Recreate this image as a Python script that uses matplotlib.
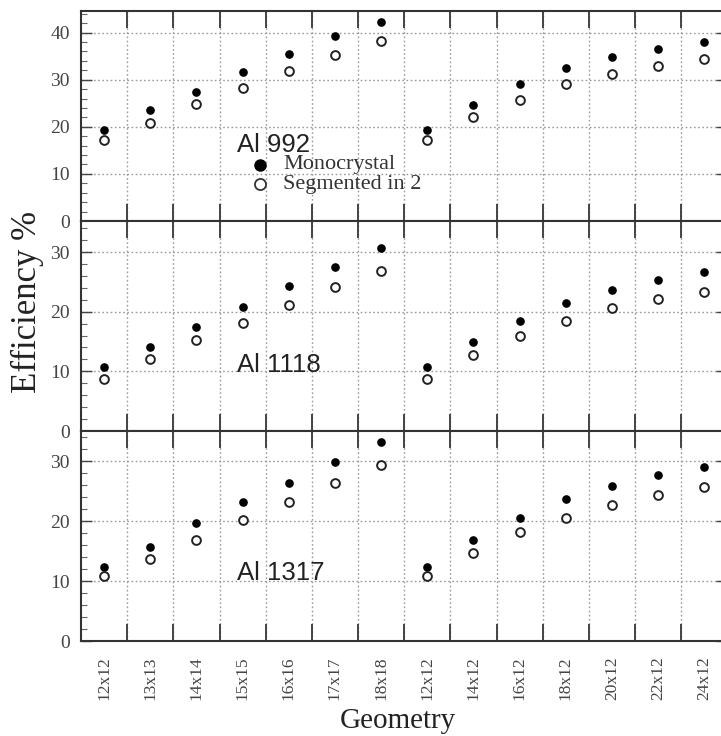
import matplotlib
matplotlib.use("Agg")
import matplotlib.pyplot as plt
from matplotlib.ticker import MultipleLocator, FixedLocator

geometries = ["12x12", "13x13", "14x14", "15x15", "16x16", "17x17", "18x18",
              "12x12", "14x12", "16x12", "18x12", "20x12", "22x12", "24x12"]

panel_names = ["Al 992", "Al 1118", "Al 1317"]

mono_992 = [19.3, 23.6, 27.4, 31.7, 35.4, 39.2, 42.3, 19.3, 24.6, 29.1, 32.5, 34.8, 36.6, 38.0]
seg_992 = [17.1, 20.8, 24.9, 28.3, 31.9, 35.2, 38.3, 17.1, 22.1, 25.8, 29.1, 31.2, 33.0, 34.3]

mono_1118 = [10.8, 14.0, 17.4, 20.8, 24.3, 27.5, 30.7, 10.8, 15.0, 18.5, 21.4, 23.6, 25.3, 26.7]
seg_1118 = [8.8, 12.0, 15.2, 18.1, 21.2, 24.2, 26.9, 8.8, 12.8, 15.9, 18.5, 20.6, 22.1, 23.3]

mono_1317 = [12.3, 15.7, 19.6, 23.1, 26.4, 29.9, 33.1, 12.3, 16.8, 20.5, 23.7, 25.8, 27.7, 29.0]
seg_1317 = [10.8, 13.6, 16.8, 20.2, 23.1, 26.4, 29.4, 10.8, 14.6, 18.1, 20.5, 22.7, 24.3, 25.6]

panels = [(mono_992, seg_992, 44.6, [0, 10, 20, 30, 40]),
          (mono_1118, seg_1118, 35.2, [0, 10, 20, 30]),
          (mono_1317, seg_1317, 35.0, [0, 10, 20, 30])]

serif = ["Liberation Serif", "DejaVu Serif"]
sans = ["Liberation Sans", "DejaVu Sans"]

W, H = 721, 736
fig = plt.figure(figsize=(W / 100, H / 100), dpi=100)

left_px, right_px = 81, 727.4
tops = [11, 221, 431]
ph = 210
label_y = [145, 365, 573]

x = list(range(len(geometries)))
axes = []
for i, (mono, seg, ymax, yt) in enumerate(panels):
    top = tops[i]
    ax = fig.add_axes([left_px / W, (H - top - ph) / H, (right_px - left_px) / W, ph / H])
    axes.append(ax)
    ax.set_xlim(-0.5, len(geometries) - 0.5)
    ax.set_ylim(0, ymax)
    ax.plot(x, mono, linestyle="none", marker="o", ms=5.2, mfc="black", mec="black", zorder=3)
    ax.plot(x, seg, linestyle="none", marker="o", ms=6.3, mfc="white", mec="#222222", mew=1.4, zorder=3)
    ax.xaxis.set_major_locator(FixedLocator([k + 0.5 for k in range(len(geometries) - 1)]))
    ax.xaxis.set_minor_locator(FixedLocator(x))
    ax.set_yticks(yt)
    ax.yaxis.set_minor_locator(MultipleLocator(2))
    ax.grid(True, which="major", linestyle=(0, (1.2, 1.8)), color="#9a9a9a", linewidth=1.0)
    ax.tick_params(axis="x", which="major", direction="in", top=True, bottom=True, length=12,
                   width=1.4, color="#444444", labelbottom=False)
    ax.tick_params(axis="x", which="minor", length=0, labelbottom=(i == 2))
    ax.tick_params(axis="y", which="major", direction="in", left=True, right=True, length=8,
                   width=1.0, color="#444444", labelsize=14, labelcolor="#444444", pad=8)
    ax.tick_params(axis="y", which="minor", direction="in", left=True, right=True, length=4,
                   width=0.8, color="#666666")
    for lab in ax.get_yticklabels():
        lab.set_family(serif)
    for s in ax.spines.values():
        s.set_color("#333333")
        s.set_linewidth(1.5)
    fig.text(237 / W, (H - label_y[i]) / H, panel_names[i], fontsize=18.5,
             family=sans, color="#222222", va="center", ha="left")

bot = axes[2]
bot.set_xticks(x, minor=True)
bot.set_xticklabels(geometries, minor=True, rotation=90, fontsize=12.5, family=serif, color="#444444")
bot.tick_params(axis="x", which="minor", pad=11)

# legend in top panel
fig.lines.append(plt.Line2D([260 / W], [(H - 165) / H], transform=fig.transFigure,
                            marker="o", ms=8, mfc="black", mec="black", linestyle="none"))
fig.lines.append(plt.Line2D([260 / W], [(H - 184) / H], transform=fig.transFigure,
                            marker="o", ms=8, mfc="white", mec="#333333", mew=1.3, linestyle="none"))
fig.text(283 / W, (H - 164) / H, "Monocrystal", family=serif, fontsize=16, va="center", color="#333333")
fig.text(283 / W, (H - 185) / H, "Segmented in 2", family=serif, fontsize=16, va="center", color="#333333")

fig.text(27 / W, (H - 302) / H, "Efficiency %", family=serif, fontsize=25, rotation=90,
         va="center", ha="center", color="#222222")
fig.text(398 / W, (H - 721) / H, "Geometry", family=serif, fontsize=21, va="center", ha="center",
         color="#222222")

fig.savefig("out.png", dpi=100)
